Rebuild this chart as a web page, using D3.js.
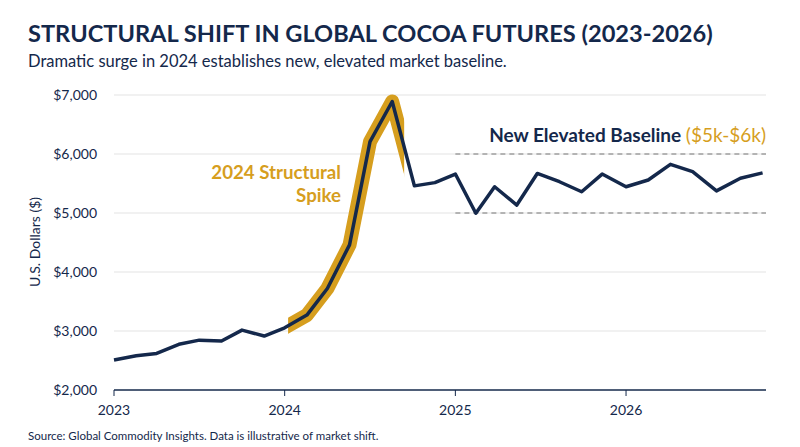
<!DOCTYPE html>
<html><head><meta charset="utf-8">
<script src="https://cdn.jsdelivr.net/npm/d3@7"></script>
<style>body{margin:0;background:#fff;font-family:Lato,"Open Sans",sans-serif}</style>
</head><body><svg id="c" width="800" height="447"></svg>
<script>
// decimal years
const dates = [2023.0,2023.13,2023.25,2023.38,2023.5,2023.63,2023.75,2023.88,2024.0,2024.13,2024.25,2024.38,2024.5,2024.63,2024.76,2024.88,
  2025.0,2025.12,2025.23,2025.36,2025.48,2025.61,2025.74,2025.86,2026.0,2026.13,2026.26,2026.39,2026.53,2026.67,2026.8];
const prices = [2510,2580,2620,2775,2845,2830,3015,2915,3055,3270,3720,4460,6210,6890,5460,5515,
  5660,4995,5445,5135,5670,5530,5360,5660,5445,5560,5825,5700,5375,5590,5680];
const yTicks = [2000,3000,4000,5000,6000,7000];
const xTicks = [2023,2024,2025,2026];
const band = [5000,6000];

const navy = '#14284b', gold = '#d69e1e';
const svg = d3.select('#c');
const x = d3.scaleLinear().domain([2023,2026.82]).range([114,766]);
const y = d3.scaleLinear().domain([2000,7000]).range([390,95]);

svg.append('g').selectAll('line').data(yTicks.slice(1)).join('line')
  .attr('x1',114).attr('x2',766).attr('y1',y).attr('y2',y).attr('stroke','#e3e3e3');
svg.append('line').attr('x1',114).attr('x2',766).attr('y1',y(2000)).attr('y2',y(2000)).attr('stroke',navy).attr('stroke-width',1.5);
svg.append('g').selectAll('text').data(yTicks).join('text')
  .attr('x',97).attr('y',d=>y(d)+5).attr('text-anchor','end').attr('font-size',14).attr('fill',navy)
  .text(d=>'$'+d3.format(',')(d));
const xa = svg.append('g').selectAll('g').data(xTicks).join('g');
xa.append('line').attr('x1',x).attr('x2',x).attr('y1',390).attr('y2',396).attr('stroke',navy);
xa.append('text').attr('x',x).attr('y',415).attr('text-anchor','middle').attr('font-size',14).attr('fill',navy).text(d=>d);
svg.append('text').attr('transform','translate(40,242) rotate(-90)').attr('text-anchor','middle')
  .attr('font-size',14).attr('fill',navy).text('U.S. Dollars ($)');

svg.append('g').selectAll('line').data(band).join('line')
  .attr('x1',x(2025)).attr('x2',766).attr('y1',y).attr('y2',y)
  .attr('stroke','#777').attr('stroke-dasharray','5,4').attr('stroke-width',1);

const line = d3.line().x((d,i)=>x(dates[i])).y(d=>y(d));
svg.append('clipPath').attr('id','hl').append('rect').attr('x',x(2024.02)).attr('y',0).attr('width',x(2024.7)-x(2024.02)).attr('height',447);
svg.append('path').datum(prices).attr('d',line).attr('clip-path','url(#hl)')
  .attr('fill','none').attr('stroke',gold).attr('stroke-width',14).attr('stroke-linejoin','round').attr('stroke-linecap','round');
svg.append('path').datum(prices).attr('d',line)
  .attr('fill','none').attr('stroke',navy).attr('stroke-width',3.5).attr('stroke-linejoin','round');

const ann = svg.append('text').attr('font-size',18.7).attr('font-weight',700).attr('fill',gold).attr('text-anchor','end');
ann.append('tspan').attr('x',341).attr('y',179).text('2024 Structural');
ann.append('tspan').attr('x',341).attr('y',202).text('Spike');
const nb = svg.append('text').attr('x',766).attr('y',142).attr('text-anchor','end').attr('font-size',19).attr('font-weight',700).attr('fill',navy);
nb.append('tspan').text('New Elevated Baseline ');
nb.append('tspan').attr('fill',gold).attr('font-weight',400).text('($5k-$6k)');

svg.append('text').attr('x',28).attr('y',42).attr('font-size',23.6).attr('font-weight',700).attr('fill',navy)
  .text('STRUCTURAL SHIFT IN GLOBAL COCOA FUTURES (2023-2026)');
svg.append('text').attr('x',28).attr('y',67).attr('font-size',16.5).attr('fill',navy)
  .text('Dramatic surge in 2024 establishes new, elevated market baseline.');
svg.append('text').attr('x',28).attr('y',440).attr('font-size',11.5).attr('fill',navy)
  .text('Source: Global Commodity Insights. Data is illustrative of market shift.');
</script></body></html>
